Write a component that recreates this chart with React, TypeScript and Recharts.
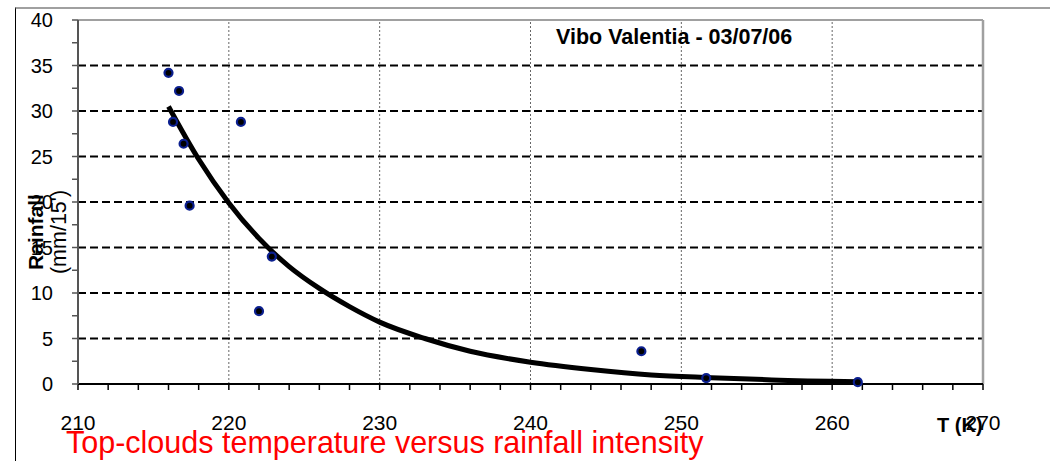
import {
  ComposedChart,
  Line,
  ReferenceLine,
  Scatter,
  XAxis,
  YAxis,
} from "recharts";

// observed points: top-cloud temperature (K) vs rainfall (mm/15')
const temps = [216.0, 216.7, 216.3, 217.0, 217.4, 220.8, 222.85, 222.0, 247.35, 251.65, 261.7];
const rain = [34.2, 32.2, 28.8, 26.4, 19.6, 28.8, 14.0, 8.0, 3.6, 0.65, 0.2];

// trend curve
const curveT = [216, 218, 220, 222, 224, 226, 228, 230, 233, 236, 240, 244, 248, 252, 256, 261.7];
const curveR = [30.5, 24.7, 19.9, 16.0, 12.9, 10.5, 8.5, 6.8, 5.0, 3.6, 2.4, 1.6, 1.0, 0.7, 0.45, 0.25];

const xTicks = [210, 212, 214, 216, 218, 220, 222, 224, 226, 228, 230, 232, 234, 236, 238, 240, 242, 244, 246, 248, 250, 252, 254, 256, 258, 260, 262, 264, 266, 268, 270];
const yTicks = [0, 2.5, 5, 7.5, 10, 12.5, 15, 17.5, 20, 22.5, 25, 27.5, 30, 32.5, 35, 37.5, 40];
const xGrid = [220, 230, 240, 250, 260];
const yGrid = [5, 10, 15, 20, 25, 30, 35];

const points = temps.map((t, i) => ({ t, r: rain[i] }));
const curve = curveT.map((t, i) => ({ t, r: curveR[i] }));

const font = "Arial, 'Liberation Sans', sans-serif";

const Dot = (p: any) => (
  <circle cx={p.cx} cy={p.cy} r={4} fill="#000" stroke="#0b1f8f" strokeWidth={2.2} />
);

export default function App() {
  return (
    <div style={{ position: "absolute", left: 0, top: 0, width: 1050, height: 461, background: "#fff", fontFamily: font, overflow: "hidden" }}>
      <div style={{ position: "absolute", left: 15, top: 7, width: 1100, height: 500, borderLeft: "1px solid #000", borderTop: "2px solid #a0a0a0" }} />
      <ComposedChart
        width={1050}
        height={461}
        margin={{ top: 20, right: 67, bottom: 17, left: 18 }}
        style={{ position: "absolute", left: 0, top: 0 }}
      >
        <XAxis
          dataKey="t"
          type="number"
          domain={[210, 270]}
          ticks={xTicks}
          interval={0}
          height={60}
          tickSize={6}
          tickMargin={25}
          tickFormatter={(v) => (v % 10 === 0 ? String(v) : "")}
          tick={{ fontSize: 21, fill: "#000", fontFamily: font }}
          axisLine={{ stroke: "#000", strokeWidth: 2 }}
          tickLine={{ stroke: "#000", strokeWidth: 1.5 }}
        />
        <YAxis
          dataKey="r"
          type="number"
          domain={[0, 40]}
          ticks={yTicks}
          interval={0}
          width={60}
          tickSize={6}
          tickMargin={19}
          tickFormatter={(v) => (v % 5 === 0 ? String(v) : "")}
          tick={{ fontSize: 20, fill: "#000", fontFamily: font }}
          axisLine={{ stroke: "#555", strokeWidth: 2 }}
          tickLine={{ stroke: "#555", strokeWidth: 1.5 }}
        />
        {xGrid.map((v) => (
          <ReferenceLine key={"x" + v} x={v} stroke="#666" strokeDasharray="2 2" strokeWidth={1} />
        ))}
        {yGrid.map((v) => (
          <ReferenceLine key={"y" + v} y={v} stroke="#000" strokeDasharray="8 4" strokeWidth={2} />
        ))}
        <ReferenceLine y={40} stroke="#a0a0a0" strokeWidth={2} />
        <ReferenceLine x={270} stroke="#a0a0a0" strokeWidth={2.5} />
        <Scatter data={points} dataKey="r" shape={Dot} isAnimationActive={false} />
        <Line
          data={curve}
          dataKey="r"
          type="monotone"
          stroke="#000"
          strokeWidth={5}
          dot={false}
          isAnimationActive={false}
        />
      </ComposedChart>

      <div style={{ position: "absolute", left: 556, top: 26, fontSize: 21.5, fontWeight: "bold", whiteSpace: "nowrap", lineHeight: "22px" }}>
        Vibo Valentia - 03/07/06
      </div>
      <div style={{ position: "absolute", left: 937, top: 414, fontSize: 20, fontWeight: "bold", whiteSpace: "nowrap", lineHeight: "22px" }}>
        T (K)
      </div>
      <div style={{ position: "absolute", left: 36, top: 232, transform: "translate(-50%, -50%) rotate(-90deg)", fontSize: 21, fontWeight: "bold", whiteSpace: "nowrap", lineHeight: "20px" }}>
        Rainfall
      </div>
      <div style={{ position: "absolute", left: 59, top: 232, transform: "translate(-50%, -50%) rotate(-90deg)", fontSize: 21.5, whiteSpace: "nowrap", lineHeight: "20px" }}>
        (mm/15')
      </div>
      <div style={{ position: "absolute", left: 66, top: 426, fontSize: 30.5, color: "#ff0000", whiteSpace: "nowrap", lineHeight: "32px" }}>
        Top-clouds temperature versus rainfall intensity
      </div>
    </div>
  );
}
